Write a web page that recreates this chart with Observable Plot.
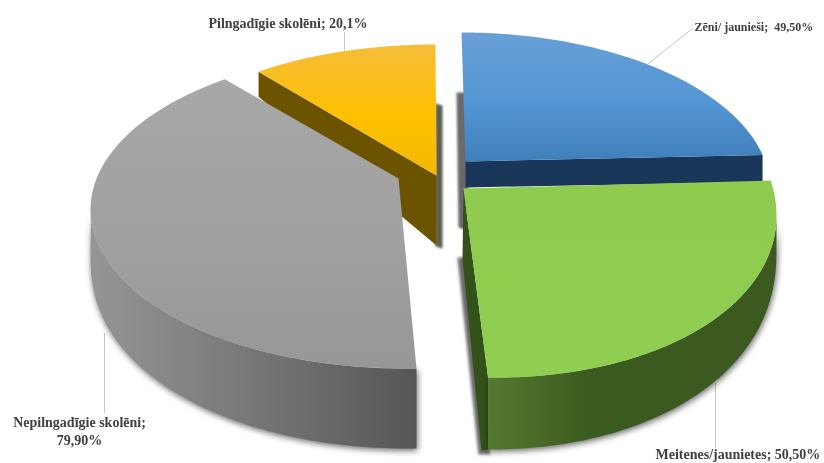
<!DOCTYPE html>
<html><head><meta charset="utf-8">
<style>html,body{margin:0;padding:0;background:#fff}svg{display:block}</style>
<script src="https://cdn.jsdelivr.net/npm/d3@7"></script>
<script src="https://cdn.jsdelivr.net/npm/@observablehq/plot@0.6"></script>
</head><body><div id="c"></div>
<script>
// Data (each ring half = 100%)
const names = ["Zēni/ jaunieši", "Meitenes/jaunietes", "Nepilngadīgie skolēni", "Pilngadīgie skolēni"];
const values = [49.5, 50.5, 79.9, 20.1];
const valueLabels = ["49,50%", "50,50%", "79,90%", "20,1%"];

// Perspective model of each exploded wedge
const blueGeo   = {apex:[465,161], cx:461, cy:190, a:309, b:158, c:0,  start:0,     stretch:.864};
const greenGeo  = {apex:[463,188], cx:460, cy:195, a:316, b:181, c:20, start:79,    stretch:1.056};
const greyGeo   = {apex:[398,178], cx:405, cy:209, a:315, b:159, c:0,  start:178,   stretch:1.022};
const orangeGeo = {apex:[436,175], cx:435, cy:175, a:290, b:131, c:0,  start:322.4, stretch:1.039};

const rad = Math.PI / 180;
const span = (v, g) => v / 100 * 180 * g.stretch;
const rimAt = (g, phi) => [g.cx + g.a * Math.sin(phi*rad), g.cy - g.b * Math.cos(phi*rad) + g.c * Math.sin(phi*rad)];
const rim = (g, from, to, n = 80) => d3.range(n + 1).map(i => rimAt(g, from + (to - from) * i / n));
const top_ = (v, g) => [g.apex, ...rim(g, g.start, g.start + span(v, g))];
// curved outer wall: thickness varies with the angle
const wall = (g, from, to, d0, d1, p) => {
  const upper = rim(g, from, to);
  const lower = upper.map((pt, i) => {
    const phi = from + (to - from) * i / 80;
    return [pt[0], pt[1] + d0 + d1 * Math.pow(Math.max(0, -Math.cos(phi*rad)), p)];
  });
  return [...upper, ...lower.reverse()];
};
const face = (p, q, dp, dq) => [p, q, [q[0], q[1] + dq], [p[0], p[1] + dp]];

const poly = (pts, fill, extra = {}) => Plot.line(pts, {x: d => d[0], y: d => d[1], fill, stroke: "none", curve: "linear", ...extra});
const leader = (pts) => Plot.line(pts, {x: d => d[0], y: d => d[1], stroke: "#c4c4c4", strokeWidth: 1});

const defs = () => {
  const d = d3.create("svg:defs");
  const grad = (id, x2, y2, stops) => {
    const g = d.append("linearGradient").attr("id", id).attr("x1", 0).attr("y1", 0).attr("x2", x2).attr("y2", y2);
    stops.forEach(([o, c]) => g.append("stop").attr("offset", o).attr("stop-color", c));
  };
  grad("gBlue", 0, 1, [[0, "#689fd6"], [.55, "#5496d4"], [1, "#3f7fb9"]]);
  grad("gOrange", 0, 1, [[0, "#f6bd3a"], [.55, "#ffc000"], [1, "#f2b800"]]);
  grad("gGrey", 0, 1, [[0, "#a8a8a8"], [.55, "#a0a0a0"], [1, "#979797"]]);
  grad("gGreen", 0, 1, [[0, "#8ecb4e"], [1, "#8fce50"]]);
  grad("gGreenSide", 1, 0, [[0, "#56792f"], [.35, "#3b5a1f"], [1, "#3c5a20"]]);
  grad("gGreySide", 1, 0, [[0, "#959595"], [.45, "#7a7a7a"], [1, "#565656"]]);
  return d.node();
};

const shadow = "drop-shadow(1px 2px 3px rgba(0,0,0,.6))";
const [bV, gV, nV, oV] = values;
const oEnd = rimAt(orangeGeo, orangeGeo.start);
const bEnd = rimAt(blueGeo, blueGeo.start + span(bV, blueGeo));
const gEnd = rimAt(greenGeo, greenGeo.start + span(gV, greenGeo));
const labelFont = {fontSize: 14, fontWeight: "bold", fontFamily: "Liberation Serif", fill: "#404040"};

const plot = Plot.plot({
  width: 824, height: 463, margin: 0,
  style: {filter: "blur(0.45px)"},
  x: {domain: [0, 824], axis: null},
  y: {domain: [463, 0], axis: null},
  marks: [
    defs,
    // soft shadow strips in the gaps
    poly([[435,103],[442,105],[442,248],[435,246]], "#5c5c50", {imageFilter: "blur(1.2px)"}),
    poly([[456,92],[468,92],[468,187],[464,229],[458,227]], "#6a6a6a", {imageFilter: "blur(1.2px)"}),
    poly([[457,257],[470,257],[490,454],[478,454]], "#6a6a6a", {imageFilter: "blur(1.5px)"}),
    leader([[344,50],[344,32]]),
    leader([[648,63],[692,28]]),
    leader([[715,383],[715,447]]),
    leader([[104,333],[104,412]]),
    // orange
    poly(face(oEnd, orangeGeo.apex, 25, 70), "#6b5300"),
    poly(top_(oV, orangeGeo), "url(#gOrange)"),
    // grey
    poly(wall(greyGeo, 178, 272, 40, 40, .4), "url(#gGreySide)", {imageFilter: shadow}),
    poly(top_(nV, greyGeo), "url(#gGrey)"),
    // blue
    poly(face(blueGeo.apex, bEnd, 26, 27), "#1a3659"),
    poly(top_(bV, blueGeo), "url(#gBlue)"),
    // green
    poly([greenGeo.apex, gEnd, [gEnd[0], gEnd[1] + 72], [481, 450], [462, 258]], "#33521a"),
    poly(wall(greenGeo, 90, 175, 30, 42, .5), "url(#gGreenSide)", {imageFilter: shadow}),
    poly(top_(gV, greenGeo), "url(#gGreen)"),
    // labels
    Plot.text([`${names[3]}; ${valueLabels[3]}`], {x: 208, y: 23, text: d => d, textAnchor: "start", ...labelFont}),
    Plot.text([`${names[0]};  ${valueLabels[0]}`], {x: 694, y: 27, text: d => d, textAnchor: "start", ...labelFont, fontSize: 12, style: "white-space:pre"}),
    Plot.text([`${names[1]}; ${valueLabels[1]}`], {x: 655, y: 454, text: d => d, textAnchor: "start", ...labelFont}),
    Plot.text([`${names[2]};\n${valueLabels[2]}`], {x: 79, y: 430, text: d => d, textAnchor: "middle", lineHeight: 1.29, ...labelFont})
  ]
});
document.getElementById("c").append(plot);
</script></body></html>
